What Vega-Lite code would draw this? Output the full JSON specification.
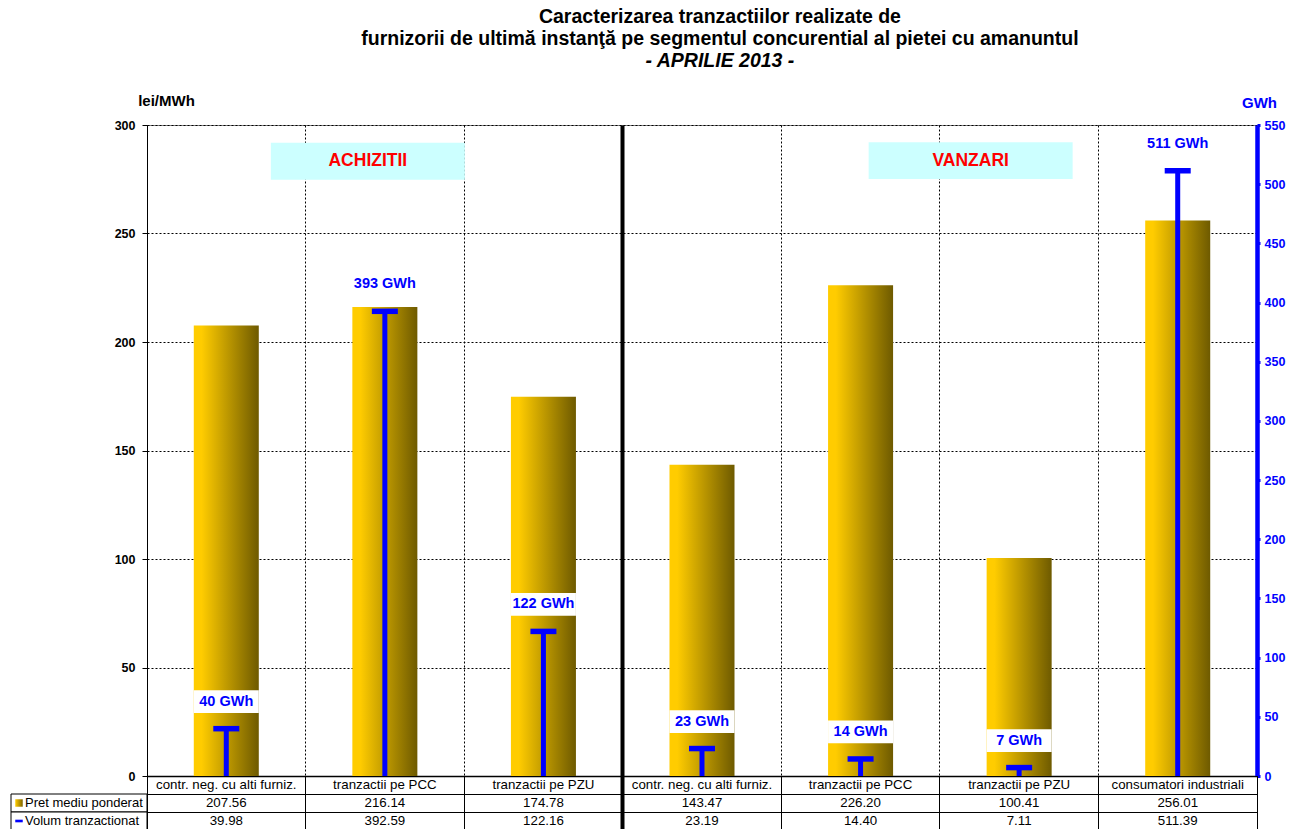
{
  "$schema": "https://vega.github.io/schema/vega-lite/v6.json",
  "background": "white",
  "padding": {"left": 10, "top": 6, "right": 0, "bottom": 0},
  "config": {"font": "Liberation Sans", "view": {"stroke": null}},
  "title": {
    "text": ["Caracterizarea tranzactiilor realizate de", "furnizorii de ultimă instanţă pe segmentul concurential al pietei cu amanuntul"],
    "subtitle": "- APRILIE 2013 -",
    "fontSize": 19.5, "fontWeight": "bold", "color": "black", "lineHeight": 22,
    "subtitleFontSize": 19.5, "subtitleFontWeight": "bold", "subtitleFontStyle": "italic", "subtitleColor": "black", "subtitleLineHeight": 22, "subtitlePadding": 3,
    "anchor": "middle", "dx": 72, "offset": 21
  },
  "datasets": {
    "main": [
      {"id": "c1", "cat": "contr. neg. cu alti furniz.", "price": 207.56, "vol": 39.98, "label": "40 GWh"},
      {"id": "c2", "cat": "tranzactii pe PCC", "price": 216.14, "vol": 392.59, "label": "393 GWh"},
      {"id": "c3", "cat": "tranzactii pe PZU", "price": 174.78, "vol": 122.16, "label": "122 GWh"},
      {"id": "c4", "cat": "contr. neg. cu alti furniz.", "price": 143.47, "vol": 23.19, "label": "23 GWh"},
      {"id": "c5", "cat": "tranzactii pe PCC", "price": 226.20, "vol": 14.40, "label": "14 GWh"},
      {"id": "c6", "cat": "tranzactii pe PZU", "price": 100.41, "vol": 7.11, "label": "7 GWh"},
      {"id": "c7", "cat": "consumatori industriali", "price": 256.01, "vol": 511.39, "label": "511 GWh"}
    ]
  },
  "columns": 2,
  "spacing": 0,
  "bounds": "flush",
  "resolve": {"scale": {"x": "independent", "y": "independent"}},
  "concat": [
    {
      "width": 136, "height": 651,
      "data": {"values": [{}]},
      "mark": {"type": "text", "text": ""},
      "encoding": {}
    },
    {
      "width": 1110, "height": 651,
      "data": {"name": "main"},
      "view": {"stroke": "#808080"},
      "resolve": {"scale": {"y": "independent"}},
      "layer": [
        {
          "layer": [
            {
              "mark": {"type": "bar", "width": {"band": 0.41},
                "color": {"gradient": "linear", "x1": 0, "x2": 1, "y1": 0, "y2": 0,
                  "stops": [{"offset": 0, "color": "#FFCC00"}, {"offset": 0.12, "color": "#FFCC00"}, {"offset": 1, "color": "#6E5A00"}]}},
              "encoding": {
                "x": {"field": "id", "type": "nominal",
                  "scale": {"type": "band", "domain": ["c1", "c2", "c3", "c4", "c5", "c6", "c7"], "paddingInner": 0, "paddingOuter": 0},
                  "axis": {"orient": "bottom", "labels": false, "ticks": false, "title": null, "domain": true, "domainColor": "black", "domainWidth": 1.5,
                    "bandPosition": 0, "grid": true, "gridColor": "black",
                    "gridWidth": {"condition": {"test": "datum.value === 'c4'", "value": 4}, "value": 1},
                    "gridDash": {"condition": {"test": "datum.value === 'c4'", "value": []}, "value": [2, 2]}}},
                "y": {"field": "price", "type": "quantitative", "scale": {"domain": [0, 300]},
                  "axis": {"values": [0, 50, 100, 150, 200, 250, 300], "title": "lei/MWh", "titleAngle": 0, "titleX": 19, "titleY": -20,
                    "titleAlign": "center", "titleBaseline": "alphabetic", "titleFontSize": 15, "titleFontWeight": "bold", "titleColor": "black",
                    "labelFontSize": 12.5, "labelFontWeight": "bold", "labelColor": "black", "labelPadding": 7,
                    "domainColor": "black", "tickColor": "black", "tickSize": 5,
                    "grid": true, "gridColor": "black", "gridDash": [2, 2], "gridWidth": 1}}
              }
            },
            {
              "data": {"values": [{}]},
              "mark": {"type": "point", "shape": "M-1,-0.19H1V0.19H-1Z", "size": 37636, "filled": true, "color": "#CCFFFF", "opacity": 1, "strokeWidth": 0, "xOffset": -17},
              "encoding": {"x": {"datum": "c2"}, "y": {"datum": 283.3}}
            },
            {
              "data": {"values": [{}]},
              "mark": {"type": "text", "text": "ACHIZITII", "fontSize": 17.5, "fontWeight": "bold", "color": "#FF0000", "baseline": "middle", "xOffset": -17},
              "encoding": {"x": {"datum": "c2"}, "y": {"datum": 283.3}}
            },
            {
              "data": {"values": [{}]},
              "mark": {"type": "point", "shape": "M-1,-0.181H1V0.181H-1Z", "size": 41616, "filled": true, "color": "#CCFFFF", "opacity": 1, "strokeWidth": 0, "xOffset": -48.5},
              "encoding": {"x": {"datum": "c6"}, "y": {"datum": 283.6}}
            },
            {
              "data": {"values": [{}]},
              "mark": {"type": "text", "text": "VANZARI", "fontSize": 17.5, "fontWeight": "bold", "color": "#FF0000", "baseline": "middle", "xOffset": -48.5},
              "encoding": {"x": {"datum": "c6"}, "y": {"datum": 283.6}}
            }
          ]
        },
        {
          "layer": [
            {
              "mark": {"type": "rule", "color": "#0000FF", "strokeWidth": 5, "opacity": 1},
              "encoding": {
                "x": {"field": "id", "type": "nominal"},
                "y": {"field": "vol", "type": "quantitative", "scale": {"domain": [0, 550]},
                  "axis": {"orient": "right", "values": [0, 50, 100, 150, 200, 250, 300, 350, 400, 450, 500, 550], "title": "GWh", "titleAngle": 0,
                    "titleX": 2, "titleY": -18, "titleAlign": "center", "titleBaseline": "alphabetic", "titleColor": "#0000FF", "titleFontSize": 15, "titleFontWeight": "bold",
                    "labelColor": "#0000FF", "labelFontSize": 12.5, "labelFontWeight": "bold", "labelPadding": 4,
                    "domainColor": "#0000FF", "domainWidth": 4.5, "tickColor": "#0000FF", "tickSize": 3, "tickWidth": 3, "grid": false}},
                "y2": {"datum": 0}
              }
            },
            {
              "mark": {"type": "tick", "color": "#0000FF", "size": 26, "thickness": 5.5, "orient": "horizontal", "opacity": 1},
              "encoding": {"x": {"field": "id", "type": "nominal"}, "y": {"field": "vol", "type": "quantitative"}}
            },
            {
              "mark": {"type": "point", "shape": "M-1,-0.35H1V0.35H-1Z", "size": 4225, "filled": true, "color": "white", "opacity": 1, "strokeWidth": 0, "yOffset": -27},
              "encoding": {"x": {"field": "id", "type": "nominal"}, "y": {"field": "vol", "type": "quantitative"}}
            },
            {
              "mark": {"type": "text", "fontSize": 14.5, "fontWeight": "bold", "color": "#0000FF", "baseline": "middle", "yOffset": -27},
              "encoding": {"x": {"field": "id", "type": "nominal"}, "y": {"field": "vol", "type": "quantitative"}, "text": {"field": "label"}}
            }
          ]
        }
      ]
    },
    {
      "width": 136, "height": 54,
      "data": {"values": [{"row": "pret", "label": "Pret mediu ponderat"}, {"row": "vol", "label": "Volum tranzactionat"}]},
      "encoding": {
        "y": {"field": "row", "type": "nominal", "scale": {"type": "band", "domain": ["cat", "pret", "vol"], "paddingInner": 0, "paddingOuter": 0}, "axis": null}
      },
      "layer": [
        {
          "mark": {"type": "rect", "fill": "white", "stroke": "black", "strokeWidth": 1},
          "encoding": {"x": {"datum": 0, "type": "quantitative", "scale": {"domain": [0, 1]}, "axis": null}, "x2": {"datum": 1}}
        },
        {
          "mark": {"type": "text", "align": "left", "baseline": "middle", "fontSize": 13, "dx": 14, "color": "black"},
          "encoding": {"x": {"datum": 0, "type": "quantitative"}, "text": {"field": "label"}}
        },
        {
          "transform": [{"filter": "datum.row === 'pret'"}],
          "mark": {"type": "point", "shape": "square", "size": 56, "filled": true, "opacity": 1, "strokeWidth": 0, "xOffset": 8,
            "fill": {"gradient": "linear", "x1": 0, "x2": 1, "y1": 0, "y2": 0, "stops": [{"offset": 0, "color": "#FFCC00"}, {"offset": 1, "color": "#806600"}]}},
          "encoding": {"x": {"datum": 0, "type": "quantitative"}}
        },
        {
          "transform": [{"filter": "datum.row === 'vol'"}],
          "mark": {"type": "point", "shape": "M-1,-0.35H1V0.35H-1Z", "size": 56, "filled": true, "color": "#0000FF", "opacity": 1, "strokeWidth": 0, "xOffset": 8},
          "encoding": {"x": {"datum": 0, "type": "quantitative"}}
        }
      ]
    },
    {
      "width": 1110, "height": 54,
      "data": {"name": "main"},
      "view": {"stroke": "black"},
      "encoding": {
        "x": {"field": "id", "type": "nominal",
          "scale": {"type": "band", "domain": ["c1", "c2", "c3", "c4", "c5", "c6", "c7"], "paddingInner": 0, "paddingOuter": 0},
          "axis": {"orient": "bottom", "labels": false, "ticks": false, "title": null, "domain": false,
            "bandPosition": 0, "grid": true, "gridColor": "black",
            "gridWidth": {"condition": {"test": "datum.value === 'c4'", "value": 4}, "value": 1}}}
      },
      "layer": [
        {
          "mark": {"type": "text", "fontSize": 13.3, "baseline": "middle", "color": "black"},
          "encoding": {
            "y": {"datum": "cat", "type": "nominal", "scale": {"type": "band", "domain": ["cat", "pret", "vol"], "paddingInner": 0, "paddingOuter": 0},
              "axis": {"labels": false, "ticks": false, "domain": false, "title": null, "bandPosition": 0, "grid": true, "gridColor": "black", "gridWidth": 1}},
            "text": {"field": "cat"}
          }
        },
        {
          "mark": {"type": "text", "fontSize": 13.3, "baseline": "middle", "color": "black"},
          "encoding": {"y": {"datum": "pret", "type": "nominal"}, "text": {"field": "price", "type": "quantitative", "format": ".2f"}}
        },
        {
          "mark": {"type": "text", "fontSize": 13.3, "baseline": "middle", "color": "black"},
          "encoding": {"y": {"datum": "vol", "type": "nominal"}, "text": {"field": "vol", "type": "quantitative", "format": ".2f"}}
        }
      ]
    }
  ]
}
